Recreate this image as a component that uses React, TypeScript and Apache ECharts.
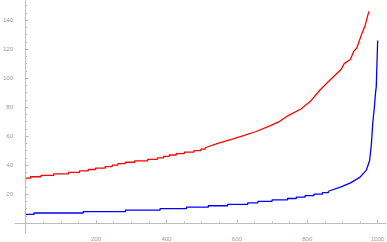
import React, { useEffect, useRef } from "react";
import * as echarts from "echarts";

// Red series: flat stair-steps (level start x, level value), then steep upper part
const redStepX = [1, 14, 44, 80, 122, 153, 178, 199, 226, 246, 262, 283, 310, 347, 374, 392, 408, 428, 451, 478, 498, 510];
const redStepY = [31, 32, 33, 34, 35, 36, 37, 38, 39, 40, 41, 42, 43, 44, 45, 46, 47, 48, 49, 50, 51, 52];
const redUpperX = [510, 546, 583, 619, 655, 692, 719, 746, 782, 809, 837, 864, 896, 905, 923, 932, 941, 955, 964, 975];
const redUpperY = [52, 55, 57.6, 60.3, 63.2, 66.9, 69.8, 74.2, 78.7, 84, 92, 98.6, 106, 110, 113, 118.5, 121, 130.7, 136, 146];

// Blue series
const blueStepX = [1, 24, 164, 284, 382, 457, 519, 574, 631, 660, 700, 744, 769, 794, 819, 843, 860];
const blueStepY = [6, 7, 8, 9, 10, 11, 12, 13, 14, 15, 16, 17, 18, 19, 20, 21, 22];
const blueUpperX = [860, 896, 923, 950, 968, 977, 982, 986, 991, 994, 996, 998, 1000];
const blueUpperY = [22, 25, 27.8, 31.7, 36.6, 43, 54, 68.7, 81, 90, 94, 110, 126];

// Ticks
const xMajorTicks = [200, 400, 600, 800, 1000];
const xMinorTicks = [50, 100, 150, 250, 300, 350, 450, 500, 550, 650, 700, 750, 850, 900, 950];
const yMajorTicks = [20, 40, 60, 80, 100, 120, 140];
const yMinorTicks = [5, 10, 15, 25, 30, 35, 45, 50, 55, 65, 70, 75, 85, 90, 95, 105, 110, 115, 125, 130, 135, 145, 150];

const zip = (xs: number[], ys: number[]) => xs.map((x, i) => [x, ys[i]]);

const AXIS_COLOR = "#bdbdbd";
const LABEL_COLOR = "#9a9a9a";

export default function App() {
  const ref = useRef<HTMLDivElement>(null);
  useEffect(() => {
    if (!ref.current) return;
    const chart = echarts.init(ref.current, undefined, { renderer: "svg" });
    const xRange = { min: -29.9, max: 1023.7 };
    const yRange = { min: -6.8, max: 153.9 };
    const labelStyle = {
      fontSize: 6,
      color: LABEL_COLOR,
      fontFamily: "Liberation Sans",
      formatter: (v: number) => String(v),
    };
    chart.setOption({
      animation: false,
      grid: { left: 0, right: 0, top: 0, bottom: 0, containLabel: false },
      xAxis: [
        {
          type: "value",
          position: "bottom",
          ...xRange,
          axisLine: { show: true, onZero: true, lineStyle: { color: AXIS_COLOR, width: 1 } },
          axisTick: { show: true, inside: true, length: 3, customValues: xMajorTicks, lineStyle: { color: AXIS_COLOR } },
          axisLabel: { show: true, customValues: xMajorTicks, margin: 3, ...labelStyle },
          splitLine: { show: false },
        },
        {
          type: "value",
          position: "bottom",
          ...xRange,
          axisLine: { show: false, onZero: true },
          axisTick: { show: true, inside: true, length: 1.5, customValues: xMinorTicks, lineStyle: { color: AXIS_COLOR } },
          axisLabel: { show: false },
          splitLine: { show: false },
        },
      ],
      yAxis: [
        {
          type: "value",
          position: "left",
          ...yRange,
          axisLine: { show: true, onZero: true, lineStyle: { color: AXIS_COLOR, width: 1 } },
          axisTick: { show: true, inside: true, length: 3, customValues: yMajorTicks, lineStyle: { color: AXIS_COLOR } },
          axisLabel: { show: true, customValues: yMajorTicks, margin: 2, ...labelStyle },
          splitLine: { show: false },
        },
        {
          type: "value",
          position: "left",
          ...yRange,
          axisLine: { show: false, onZero: true },
          axisTick: { show: true, inside: true, length: 1.5, customValues: yMinorTicks, lineStyle: { color: AXIS_COLOR } },
          axisLabel: { show: false },
          splitLine: { show: false },
        },
      ],
      series: [
        {
          type: "line",
          step: "end",
          data: zip(redStepX, redStepY),
          symbol: "none",
          lineStyle: { color: "#ff0000", width: 1.3 },
        },
        {
          type: "line",
          data: zip(redUpperX, redUpperY),
          symbol: "none",
          lineStyle: { color: "#ff0000", width: 1.3 },
        },
        {
          type: "line",
          step: "end",
          data: zip(blueStepX, blueStepY),
          symbol: "none",
          lineStyle: { color: "#0000ff", width: 1.3 },
        },
        {
          type: "line",
          data: zip(blueUpperX, blueUpperY),
          symbol: "none",
          lineStyle: { color: "#0000ff", width: 1.3 },
        },
      ],
    });
    return () => chart.dispose();
  }, []);
  return (
    <div
      ref={ref}
      style={{ position: "fixed", left: 0, top: 0, width: 387, height: 242, background: "#fff" }}
    />
  );
}
